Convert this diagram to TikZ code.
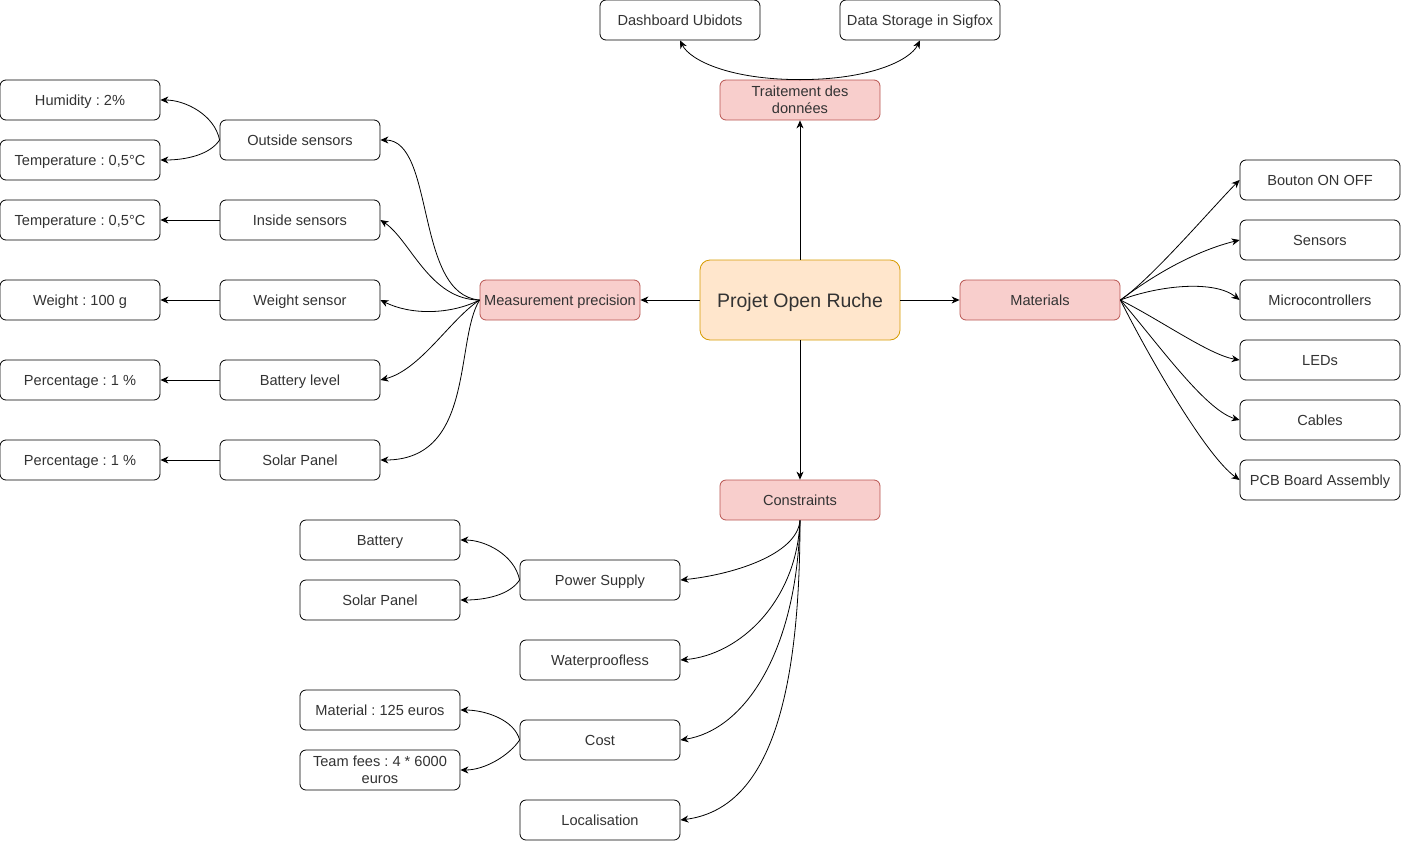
\documentclass[tikz,border=0pt]{standalone}
\usepackage{fontspec}
\setmainfont{Liberation Sans}
\usepackage{xcolor}
\usepackage{tikz}
\usetikzlibrary{arrows.meta,shapes}
\frenchspacing

\definecolor{rootfill}{HTML}{FFE6CC}
\definecolor{rootdraw}{HTML}{D79B00}
\definecolor{topicfill}{HTML}{F8CECC}
\definecolor{topicdraw}{HTML}{B85450}
\definecolor{txt}{HTML}{333333}

\begin{document}
\begin{tikzpicture}
[x=1pt,y=-1pt,line width=0.8pt]
\tikzset{
	leaf/.style = {rectangle, rounded corners=6pt, draw, fill=white, text=txt, minimum width=160pt, minimum height=40pt, inner sep=0pt, align=center, text height=13.5pt, text depth=3pt, font=\fontsize{14.6}{17}\selectfont},
	twoline/.style = {text height={}, text depth={}},
	topic/.style = {leaf, fill=topicfill, draw=topicdraw},
	root/.style = {leaf, rounded corners=10pt, fill=rootfill, draw=rootdraw, minimum width=200pt, minimum height=80pt, text height=18pt, text depth=4pt, font=\fontsize{19.5}{22}\selectfont},
	link/.style = {-{Stealth[length=8pt,width=7pt,inset=2.5pt]}}
}

\useasboundingbox (0,0) rectangle (1401,841);

% centre and main topics
\node(root) [root] at (800,300) {Projet Open Ruche};
\node(trait) [topic,twoline] at (800,100) {Traitement des\\données};
\node(meas) [topic] at (560,300) {Measurement precision};
\node(mat) [topic] at (1040,300) {Materials};
\node(cons) [topic] at (800,500) {Constraints};

% data
\node(dash) [leaf] at (680,20) {Dashboard Ubidots};
\node(stor) [leaf] at (920,20) {Data Storage in Sigfox};

% measurement
\node(outs) [leaf] at (300,140) {Outside sensors};
\node(ins) [leaf] at (300,220) {Inside sensors};
\node(wsens) [leaf] at (300,300) {Weight sensor};
\node(batl) [leaf] at (300,380) {Battery level};
\node(solp) [leaf] at (300,460) {Solar Panel};
\node(hum) [leaf] at (80,100) {Humidity : 2\%};
\node(tout) [leaf] at (80,160) {Temperature : 0,5°C};
\node(tin) [leaf] at (80,220) {Temperature : 0,5°C};
\node(wval) [leaf] at (80,300) {Weight : 100 g};
\node(pbat) [leaf] at (80,380) {Percentage : 1 \%};
\node(psol) [leaf] at (80,460) {Percentage : 1 \%};

% materials
\node(bout) [leaf] at (1320,180) {Bouton ON OFF};
\node(sens) [leaf] at (1320,240) {Sensors};
\node(micro) [leaf] at (1320,300) {Microcontrollers};
\node(leds) [leaf] at (1320,360) {LEDs};
\node(cabl) [leaf] at (1320,420) {Cables};
\node(pcb) [leaf] at (1320,480) {PCB Board Assembly};

% constraints
\node(pow) [leaf] at (600,580) {Power Supply};
\node(wat) [leaf] at (600,660) {Waterproofless};
\node(cost) [leaf] at (600,740) {Cost};
\node(loc) [leaf] at (600,820) {Localisation};
\node(batt) [leaf] at (380,540) {Battery};
\node(sol) [leaf] at (380,600) {Solar Panel};
\node(matc) [leaf] at (380,710) {Material : 125 euros};
\node(team) [leaf,twoline] at (380,770) {Team fees : 4 * 6000\\euros};

\draw [link] (root.north) -- (trait.south);
\draw [link] (root.west) -- (meas.east);
\draw [link] (root.east) -- (mat.west);
\draw [link] (root.south) -- (cons.north);

\draw [link] (trait.north) .. controls +(-70,0) and +(10,20) .. (dash.south);
\draw [link] (trait.north) .. controls +(70,0) and +(-10,20) .. (stor.south);

\draw [link] (meas.west) .. controls +(-65,-5) and +(55,0) .. (outs.east);
\draw [link] (meas.west) .. controls +(-50,0) and +(30,20) .. (ins.east);
\draw [link] (meas.west) .. controls +(-30,15) and +(30,15) .. (wsens.east);
\draw [link] (meas.west) .. controls +(-30,20) and +(40,-10) .. (batl.east);
\draw [link] (meas.west) .. controls +(-25,40) and +(95,0) .. (solp.east);

\draw [link] (outs.west) .. controls +(-5,-25) and +(25,0) .. (hum.east);
\draw [link] (outs.west) .. controls +(-10,15) and +(25,0) .. (tout.east);
\draw [link] (ins.west) -- (tin.east);
\draw [link] (wsens.west) -- (wval.east);
\draw [link] (batl.west) -- (pbat.east);
\draw [link] (solp.west) -- (psol.east);

\draw [link] (mat.east) .. controls +(30,-20) and +(-25,25) .. (bout.west);
\draw [link] (mat.east) .. controls +(40,-30) and +(-40,10) .. (sens.west);
\draw [link] (mat.east) .. controls +(40,-15) and +(-25,-20) .. (micro.west);
\draw [link] (mat.east) .. controls +(40,20) and +(-30,-5) .. (leds.west);
\draw [link] (mat.east) .. controls +(35,40) and +(-35,-10) .. (cabl.west);
\draw [link] (mat.east) .. controls +(25,50) and +(-35,-25) .. (pcb.west);

\draw [link] (cons.south) .. controls +(-3,35) and +(50,-5) .. (pow.east);
\draw [link] (cons.south) .. controls +(-3,80) and +(60,-5) .. (wat.east);
\draw [link] (cons.south) .. controls +(-3,130) and +(65,-10) .. (cost.east);
\draw [link] (cons.south) .. controls +(0,200) and +(80,-10) .. (loc.east);

\draw [link] (pow.west) .. controls +(-5,-25) and +(25,0) .. (batt.east);
\draw [link] (pow.west) .. controls +(-10,15) and +(25,0) .. (sol.east);
\draw [link] (cost.west) .. controls +(-5,-20) and +(25,0) .. (matc.east);
\draw [link] (cost.west) .. controls +(-10,15) and +(25,0) .. (team.east);

\end{tikzpicture}
\end{document}
